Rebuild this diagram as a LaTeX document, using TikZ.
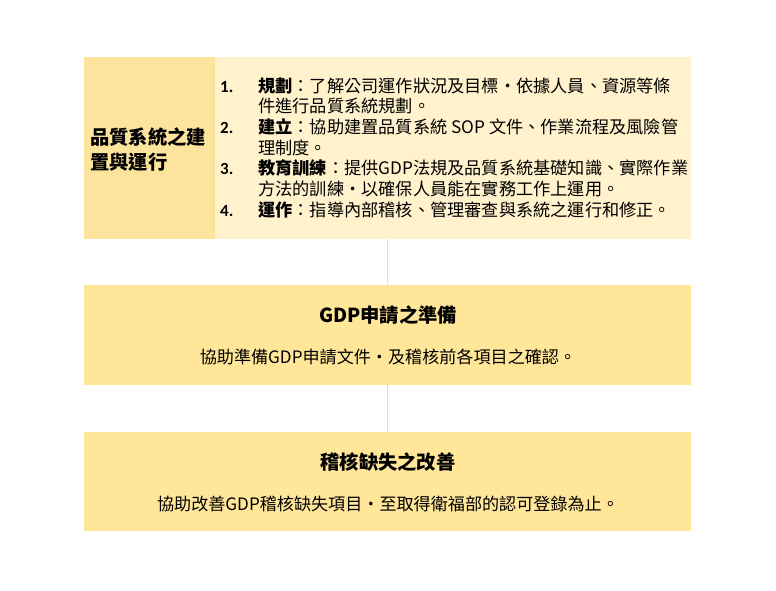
\documentclass[tikz,border=0pt]{standalone}
\usepackage{fontspec}
\setmainfont{Noto Sans CJK TC}
\newfontfamily\latinf{Carlito}
\definecolor{boxdark}{HTML}{FFE699}
\definecolor{boxleft}{HTML}{FDE49C}
\definecolor{boxlight}{HTML}{FFF2CC}
\definecolor{linkc}{HTML}{FAE08E}
\begin{document}
\begin{tikzpicture}[x=1pt,y=-1pt,
  panel/.style={rectangle,inner sep=0pt,outer sep=0pt,draw=none},
  body/.style={inner sep=0pt,anchor=base west,font=\fontsize{17.2}{20}\selectfont},
  num/.style={inner sep=0pt,anchor=base west,font=\latinf\bfseries\fontsize{17}{20}\selectfont},
  title/.style={inner sep=0pt,anchor=base,font=\bfseries\fontsize{19.3}{22}\selectfont},
  sub/.style={inner sep=0pt,anchor=base,font=\fontsize{17.1}{20}\selectfont},
  link/.style={draw=linkc,line width=1.5pt}]
\useasboundingbox[fill=white] (0,0) rectangle (776,590);
% boxes
\node[panel,fill=boxlight,minimum width=607pt,minimum height=182pt] (b1) at (387.5,148) {};
\node[panel,fill=boxleft,minimum width=131pt,minimum height=182pt] (b1l) at (149.5,148) {};
\node[panel,fill=boxdark,minimum width=607pt,minimum height=100pt] (b2) at (387.5,335) {};
\node[panel,fill=boxdark,minimum width=607pt,minimum height=99pt] (b3) at (387.5,481.5) {};
% connectors
\draw[link] (b1.south) -- (b2.north);
\draw[link] (b2.south) -- (b3.north);
% left title
\node[inner sep=0pt,anchor=base west,font=\bfseries\fontsize{19.3}{22}\selectfont] (lt1) at (90,144) {品質系統之建};
\node[inner sep=0pt,anchor=base west,font=\bfseries\fontsize{19.3}{22}\selectfont] (lt2) at (90,169) {置與運行};
% list
\node[num] (n1) at (220,92) {1.};
\node[body] (l1) at (258,92) {\textbf{規劃}：了解公司運作狀況及目標・依據人員、資源等條};
\node[body] (l1b) at (258,112.5) {件進行品質系統規劃。};
\node[num] (n2) at (220,133) {2.};
\node[body] (l2) at (258,133) {\textbf{建立}：協助建置品質系統 SOP 文件、作業流程及風險管};
\node[body] (l2b) at (258,154) {理制度。};
\node[num] (n3) at (220,174.5) {3.};
\node[body] (l3) at (258,174.5) {\textbf{教育訓練}：提供GDP法規及品質系統基礎知識、實際作業};
\node[body] (l3b) at (258,195) {方法的訓練・以確保人員能在實務工作上運用。};
\node[num] (n4) at (220,216) {4.};
\node[body] (l4) at (258,216) {\textbf{運作}：指導內部稽核、管理審查與系統之運行和修正。};
% box 2
\node[title] (t2) at (388,322) {GDP申請之準備};
\node[sub] (s2) at (388,363) {協助準備GDP申請文件・及稽核前各項目之確認。};
% box 3
\node[title] (t3) at (388,469) {稽核缺失之改善};
\node[sub] (s3) at (388,510) {協助改善GDP稽核缺失項目・至取得衛福部的認可登錄為止。};
\end{tikzpicture}
\end{document}
